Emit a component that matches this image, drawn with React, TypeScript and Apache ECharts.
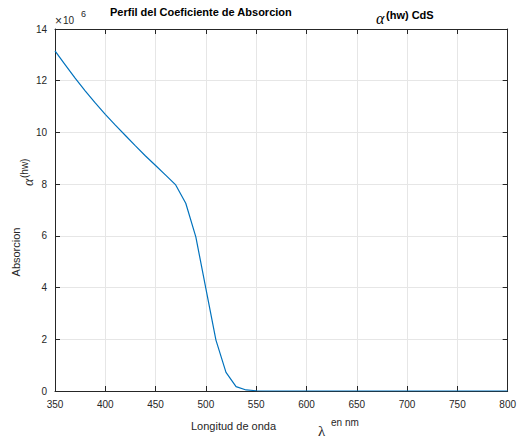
import React, { useEffect, useRef } from "react";
import * as echarts from "echarts";

const wavelengths = [
  350, 360, 370, 380, 390, 400, 410, 420, 430, 440, 450, 460, 470, 480, 490, 500,
  510, 520, 530, 540, 550, 560, 570, 580, 590, 600, 610, 620, 630, 640, 650, 660,
  670, 680, 690, 700, 710, 720, 730, 740, 750, 760, 770, 780, 790, 800,
];
const absorcion = [
  13.15, 12.62, 12.1, 11.61, 11.14, 10.7, 10.28, 9.88, 9.48, 9.09, 8.72, 8.35, 7.97,
  7.26, 5.96, 3.96, 1.97, 0.72, 0.17, 0.04, 0.01, 0, 0, 0, 0, 0, 0, 0, 0, 0, 0, 0,
  0, 0, 0, 0, 0, 0, 0, 0, 0, 0, 0, 0, 0, 0,
];
const xTicks = { min: 350, max: 800, interval: 50 };
const yTicks = { min: 0, max: 14, interval: 2 };

const FONT = "'Liberation Sans', Arial, Helvetica, sans-serif";
const SERIF = "'Liberation Serif', 'DejaVu Serif', serif";
const AX = "#262626";

export default function App() {
  const ref = useRef<HTMLDivElement>(null);
  useEffect(() => {
    if (!ref.current) return;
    const chart = echarts.init(ref.current, null, { renderer: "svg", width: 519, height: 440 });
    const data = wavelengths.map((w, i) => [w, absorcion[i]]);
    const baseAxis = {
      type: "value" as const,
      axisLine: { show: true, onZero: false, lineStyle: { color: AX, width: 1 } },
      axisTick: { show: true, inside: true, length: 5, lineStyle: { color: AX } },
    };
    chart.setOption({
      animation: false,
      backgroundColor: "#ffffff",
      grid: { left: 55, right: 7.5, top: 29, bottom: 49, containLabel: false },
      xAxis: [
        {
          ...baseAxis,
          position: "bottom",
          min: xTicks.min,
          max: xTicks.max,
          interval: xTicks.interval,
          axisLabel: { color: AX, fontSize: 10, fontFamily: FONT, margin: 8 },
          splitLine: { show: true, lineStyle: { color: "#e6e6e6", width: 1 } },
        },
        {
          ...baseAxis,
          position: "top",
          min: xTicks.min,
          max: xTicks.max,
          interval: xTicks.interval,
          axisLabel: { show: false },
          splitLine: { show: false },
        },
      ],
      yAxis: [
        {
          ...baseAxis,
          position: "left",
          min: yTicks.min,
          max: yTicks.max,
          interval: yTicks.interval,
          axisLabel: { color: AX, fontSize: 10, fontFamily: FONT, margin: 8 },
          splitLine: { show: true, lineStyle: { color: "#e6e6e6", width: 1 } },
        },
        {
          ...baseAxis,
          position: "right",
          min: yTicks.min,
          max: yTicks.max,
          interval: yTicks.interval,
          axisLabel: { show: false },
          splitLine: { show: false },
        },
      ],
      series: [
        {
          type: "line",
          data,
          xAxisIndex: 0,
          yAxisIndex: 0,
          showSymbol: false,
          symbol: "none",
          lineStyle: { color: "#0072BD", width: 1.2 },
          z: 5,
        },
      ],
      graphic: [
        {
          type: "text",
          x: 110,
          y: 12,
          style: {
            text: "Perfil del Coeficiente de Absorcion",
            font: `bold 11px ${FONT}`,
            fill: "#000",
            textVerticalAlign: "middle",
          },
        },
        {
          type: "text",
          x: 376,
          y: 18,
          style: {
            text: "α",
            font: `italic 16px ${SERIF}`,
            fill: "#000",
            textVerticalAlign: "middle",
          },
        },
        {
          type: "text",
          x: 386,
          y: 15,
          style: {
            text: "(hw) CdS",
            font: `bold 11px ${FONT}`,
            fill: "#000",
            textVerticalAlign: "middle",
          },
        },
        {
          type: "text",
          x: 55,
          y: 21,
          style: { text: "×", font: `12px ${FONT}`, fill: AX, textVerticalAlign: "middle" },
        },
        {
          type: "text",
          x: 63,
          y: 20,
          style: { text: "10", font: `10px ${FONT}`, fill: AX, textVerticalAlign: "middle" },
        },
        {
          type: "text",
          x: 81,
          y: 14,
          style: { text: "6", font: `9px ${FONT}`, fill: AX, textVerticalAlign: "middle" },
        },
        {
          type: "text",
          x: 16,
          y: 252,
          rotation: Math.PI / 2,
          style: {
            text: "Absorcion",
            font: `11px ${FONT}`,
            fill: AX,
            textAlign: "center",
            textVerticalAlign: "middle",
          },
        },
        {
          type: "text",
          x: 28,
          y: 186,
          rotation: Math.PI / 2,
          style: {
            text: "α",
            font: `italic 14px ${SERIF}`,
            fill: AX,
            textAlign: "left",
            textVerticalAlign: "middle",
          },
        },
        {
          type: "text",
          x: 24,
          y: 178,
          rotation: Math.PI / 2,
          style: {
            text: "(hw)",
            font: `10px ${FONT}`,
            fill: AX,
            textAlign: "left",
            textVerticalAlign: "middle",
          },
        },
        {
          type: "text",
          x: 191,
          y: 426,
          style: {
            text: "Longitud de onda",
            font: `11px ${FONT}`,
            fill: AX,
            textVerticalAlign: "middle",
          },
        },
        {
          type: "text",
          x: 318,
          y: 431,
          style: { text: "λ", font: `15px ${SERIF}`, fill: AX, textVerticalAlign: "middle" },
        },
        {
          type: "text",
          x: 331,
          y: 422,
          style: { text: "en nm", font: `10px ${FONT}`, fill: AX, textVerticalAlign: "middle" },
        },
      ],
    });
    return () => chart.dispose();
  }, []);
  return (
    <div
      ref={ref}
      style={{ position: "absolute", left: 0, top: 0, width: 519, height: 440 }}
    />
  );
}
